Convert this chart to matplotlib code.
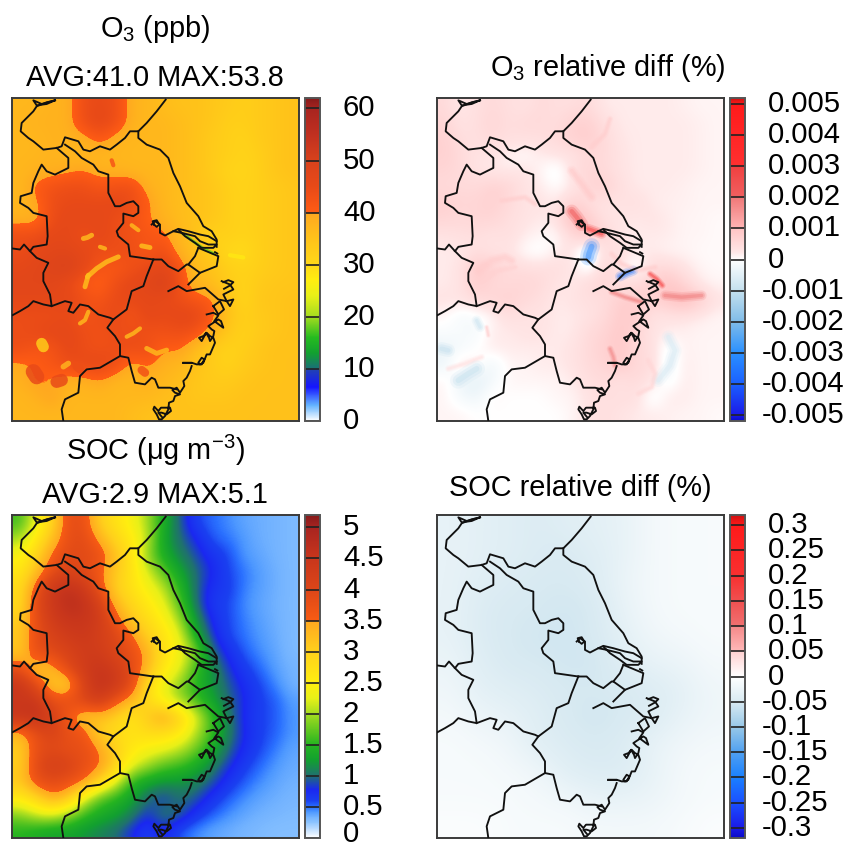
import numpy as np
import matplotlib
matplotlib.use("Agg")
import matplotlib.pyplot as plt
from matplotlib.colors import LinearSegmentedColormap, Normalize
from matplotlib.cm import ScalarMappable

plt.rcParams['font.family'] = ['Liberation Sans', 'DejaVu Sans']
plt.rcParams['mathtext.fontset'] = 'custom'
plt.rcParams['mathtext.rm'] = 'Liberation Sans'
plt.rcParams['mathtext.it'] = 'Liberation Sans'
plt.rcParams['mathtext.default'] = 'rm'

# ---------- gridded fields (row 0 = north) ----------
o3 = [
 [37,37,38,38,44,45,44,38,37,36,35,35,34,33,32,33,34,35],
 [37,38,38,38,44,46,44,38,37,37,36,35,34,32,32,33,34,35],
 [37,37,38,38,38,42,38,37,37,37,36,35,33,32,31,33,34,35],
 [37,37,38,37,37,37,37,37,37,37,36,35,33,32,31,32,34,35],
 [37,38,38,39,40,38,38,37,37,37,36,35,33,31,30.5,32,34,35],
 [37,41,43,44,44,42,43,44,38,37,36,35,34,32,31,32,33,34],
 [37,39,44,45,45,45,46,44,41,37,36,35,34,32,31,32,33,34],
 [38,38,44,46,46,46,44,43,40,38,36,35,34,32,31,32,33,34],
 [44,44,46,46,43,46,44,43,42,41,37,35,31,32,31,32,33,34],
 [44,46,47,47,46,44,44,44,41,44,38,35,33,30,29,32,33,34],
 [46,47,48,50,46,42,41,43,45,47,43,36,35,32,31,32,33,34],
 [47,47,47,45,41,39,44,46,47,50,43,37,36,33,31,33,34,34],
 [46,46,46,46,44,42,45,45,46,45,44,42,41,35,30,34,34,35],
 [44,44,44,45,42,44,45,42,46,45,46,46,42,35,32,33,34,35],
 [44,45,46,46,44,43,44,44,43,43,44,43,38,34,31,33,34,35],
 [44,42,42,46,44,43,44,44,44,40,41,36,33,31,32,34,35,35],
 [39,40,42,44,45,46,44,38,41,38,37,35,33,31,33,34,35,35],
 [38,41,39,38,38,40,37,37,38,37,36,34,33,33,34,35,35,35],
 [37,38,41,37,37,37,37,37,37,36,35,34,34,34,35,35,35,35],
 [37,37,37,37,37,37,37,36,35,35,35,35,35,35,35,35,35,35],
]
o3_diff = [
 [.5,.2,.4,.5,.4,.3,.5,.4,.4,.5,.2,.2,.2,.2,.2,.15,.1,.1],
 [.6,.3,.4,.6,.4,.5,.5,.4,.7,.7,.4,.2,.2,.2,.2,.2,.15,.1],
 [.7,.4,.4,.5,.4,.4,.4,.5,.7,.8,.5,.25,.2,.2,.2,.2,.15,.1],
 [.7,.5,.3,.3,.1,.0,.2,.3,.3,.5,.5,.3,.2,.2,.2,.2,.15,.1],
 [.6,.5,.3,.2,.2,.3,.1,-.2,.4,.6,.5,.3,.2,.2,.2,.2,.15,.1],
 [.5,.5,.5,.7,.6,.3,.2,.0,.2,.6,.7,.4,.2,.2,.2,.15,.1,.1],
 [.7,.6,.6,.7,.5,.3,.3,.2,.7,.4,.3,.3,.4,.2,.15,.15,.1,.1],
 [.6,.5,.6,.6,.4,.3,.2,.3,1.2,.8,.3,.3,.2,.3,.2,.1,.1,.05],
 [.3,.4,.4,.3,.4,.2,.1,.0,.5,1.0,.6,.2,.2,.2,.2,.1,.1,.05],
 [.2,.2,.4,.3,.3,.0,-.1,.2,.3,-.6,.4,.4,.2,.2,.1,.1,.05,.05],
 [.2,.3,.9,.7,.5,.4,.4,.4,.3,-.2,.6,.3,-.2,.5,.5,.3,.1,.05],
 [.2,.3,.8,.5,.5,.6,.5,.3,.2,.5,.6,.3,.5,.7,1.0,.6,.2,.1],
 [.3,.3,.5,.6,.7,.5,.4,.2,.3,.4,.4,.8,.8,.6,.9,1.2,.8,.3],
 [.1,-.2,-.1,.1,.4,.3,.3,.2,.2,.3,.5,.8,.8,.3,.3,.3,.2,.1],
 [-.1,-.1,-.2,.2,.2,.3,.3,.2,.2,.5,.6,.9,.6,.3,.2,.15,.1,.1],
 [-.3,-.2,.0,.2,.2,.2,.2,.2,.3,.5,.7,.9,.5,.4,-.2,.15,.1,.1],
 [-.3,.3,.1,-.3,.1,.1,.2,.2,.3,.5,.6,.9,.5,.5,-.3,.2,.1,.1],
 [.1,-.3,-.5,-.2,.1,.1,.1,.1,.2,.4,.5,.3,.5,.3,-.2,.2,.1,.1],
 [.1,-.2,-.3,.1,.0,.0,.0,.1,.1,.3,.4,.4,.4,-.2,.2,.2,.1,.1],
 [.1,.1,.0,.0,0,0,0,0,.1,.3,.4,.3,.2,.2,.15,.1,.1,.05],
]
soc = [
 [1.6,2.3,2.9,3.8,3.8,3.0,2.7,2.4,2.0,1.4,.95,.6,.52,.45,.38,.35,.33,.3],
 [2.0,2.6,3.2,3.8,3.9,3.4,2.9,2.6,2.1,1.3,1.0,.8,.55,.5,.42,.35,.33,.3],
 [2.4,2.9,3.6,3.9,3.9,3.8,3.2,2.7,1.9,1.4,1.1,.9,.7,.6,.42,.38,.33,.3],
 [2.6,3.2,3.8,4.1,3.9,3.6,3.1,2.7,2.2,1.7,1.3,1.0,.8,.6,.5,.4,.35,.3],
 [2.8,3.7,4.4,4.6,4.4,3.7,3.0,2.7,2.4,2.1,1.5,1.0,.7,.65,.48,.4,.35,.3],
 [2.8,3.9,4.4,4.7,4.6,4.2,3.3,2.9,2.6,2.3,1.7,1.0,.65,.6,.45,.38,.34,.3],
 [3.0,3.8,4.3,4.5,4.5,4.3,3.7,3.1,2.8,2.5,2.0,1.2,.75,.6,.48,.4,.35,.3],
 [3.1,3.8,4.1,4.3,4.4,4.2,4.0,3.6,3.0,2.7,2.3,1.4,.85,.6,.5,.42,.36,.3],
 [3.1,3.8,3.9,4.1,4.3,4.3,4.0,3.8,3.4,2.7,2.4,1.9,1.0,.75,.55,.45,.38,.3],
 [3.8,3.1,3.3,3.9,4.3,4.5,4.3,3.9,3.3,2.6,2.3,1.6,1.2,.85,.65,.52,.4,.33],
 [4.5,3.9,3.1,3.0,4.1,4.6,4.4,3.9,2.8,2.3,1.9,1.5,1.2,.95,.75,.6,.46,.33],
 [4.4,4.5,3.8,3.8,4.0,4.3,3.7,3.3,2.8,2.4,2.0,1.6,1.3,1.0,.8,.62,.55,.4],
 [4.5,4.6,4.2,3.6,3.1,3.2,3.0,2.6,3.1,3.5,3.0,2.3,1.6,1.1,.75,.62,.55,.42],
 [3.3,3.8,4.1,3.8,3.7,3.0,2.8,2.7,2.8,2.8,2.6,2.1,1.6,1.1,.8,.62,.54,.42],
 [3.0,3.8,3.9,3.8,3.8,3.5,3.0,2.6,2.4,2.3,2.1,1.8,1.4,1.0,.75,.6,.48,.38],
 [3.0,3.9,4.2,4.1,3.8,3.6,3.0,2.3,2.0,1.7,1.6,1.4,1.1,.85,.65,.52,.42,.36],
 [3.1,3.8,3.9,3.8,3.6,3.0,2.3,1.5,1.3,1.2,1.2,1.1,.95,.7,.55,.45,.38,.34],
 [2.6,2.9,3.5,3.2,2.3,1.7,1.5,1.3,1.0,.8,1.0,.95,.7,.55,.45,.38,.35,.32],
 [1.9,2.2,2.3,2.0,1.6,1.4,1.3,1.1,.8,1.1,1.0,.7,.55,.45,.38,.34,.32,.3],
 [1.5,1.4,1.3,1.3,1.2,1.1,1.0,.8,.6,.8,.55,.45,.38,.35,.32,.3,.28,.28],
]
soc_diff = [
 [-.03,-.035,-.04,-.045,-.04,-.035,-.03,-.015,-.01,-.01],
 [-.03,-.035,-.04,-.045,-.05,-.04,-.03,-.015,-.01,-.01],
 [-.03,-.04,-.045,-.05,-.05,-.045,-.025,-.015,-.01,-.01],
 [-.03,-.045,-.05,-.05,-.055,-.05,-.03,-.015,-.01,-.01],
 [-.03,-.045,-.05,-.055,-.055,-.05,-.035,-.02,-.015,-.01],
 [-.025,-.04,-.05,-.05,-.055,-.055,-.04,-.03,-.025,-.015],
 [-.02,-.035,-.04,-.045,-.05,-.05,-.05,-.045,-.035,-.02],
 [-.015,-.025,-.03,-.04,-.05,-.055,-.05,-.045,-.03,-.02],
 [-.01,-.015,-.02,-.04,-.045,-.05,-.045,-.03,-.02,-.015],
 [-.01,-.01,-.015,-.02,-.04,-.045,-.045,-.03,-.015,-.01],
 [-.01,-.01,-.01,-.015,-.02,-.03,-.03,-.025,-.015,-.01],
 [-.005,-.005,-.01,-.01,-.01,-.015,-.015,-.015,-.01,-.005],
]

# narrow features too fine for the grids: (map x, map y, value, width)
o3_features = [
 ([548,575,610,640],[572,592,617,632],18,2.2),
 ([262,290,320,355],[702,677,657,642],36,3.5),
 ([255,265],[732,697],36,3.5),
 ([125,130],[902,912],33,8),
 ([250,262,275],[587,584,577],37,3.5),
 ([300,315],[612,617],37,3),
 ([425,450],[609,614],36,3.5),
 ([690,730],[637,644],28,3),
 ([265,255,240],[807,832,842],37,3),
 ([440,470,500],[917,932,922],37,3.5),
 ([380,400,420],[882,872,857],37,3),
 ([190,205],[972,962],38,4),
 ([100,110],[987,1002],45,11),
 ([170,185],[1017,1012],45,9),
 ([230,240],[972,980],44,6),
 ([425,435],[982,990],43,6),
 ([395,415],[547,562],37,3),
 ([335,340],[352,367],42,3),
]
o3_diff_features = [
 ([440,455,470],[505,523,545],2.6,4),
 ([490,510,530],[558,565,573],3.0,3),
 ([500,492,490],[611,633,643],-3.2,5),
 ([585,605,625],[701,691,683],-3.6,3),
 ([675,695,712],[693,708,728],3.0,2),
 ([720,770,830],[758,763,758],2.0,3),
 ([560,600,650],[748,763,778],2.0,2),
 ([555,565,570],[918,943,968],1.8,2),
 ([730,750,735,700],[883,923,968,1013],-.7,4),
 ([640,680,690,670],[1053,1033,993,953],.6,2),
 ([160,200,240,260],[683,653,643,653],.8,3),
 ([170,220,270],[713,683,673],.7,2),
 ([500,540,555],[313,273,228],.8,2),
 ([560,590,640,690],[633,663,683,673],.8,2),
 ([70,120,170],[978,963,943],.4,2),
 ([100,130,155],[1013,993,978],-1.0,5),
 ([50,70],[918,923],-1.0,4),
 ([155,165],[833,853],-.9,3),
 ([185,190],[853,878],.9,1.5),
 ([230,300,330],[473,463,483],.8,2),
 ([440,470,500],[383,423,463],.9,3),
]

# ---------- boundaries, map units ----------
boundary_x = [
 [165,140,110,100,125,165],
 [497,470,440,415,390,375,350,330,300,270,250,235,195,185,170,130,100,85,62,65,100,110,140,165],
 [415,415,440,480,505,520,540,560,595,610,635,650,650],
 [455,465,480,480,495,520,535,565,600,625,650],
 [535,555,585,605,640,650,625,600,585,545,520],
 [170,205,205,165,140,125,115,100,95,62,60,85,100,140,143,140,100,90,72,60,38],
 [90,110,145,130,130,150,155,130,100,85,60,38],
 [155,195,215,205,220,240,265,295,330,340,380,395,430,440,460],
 [460,390,385,355,350,370,370,400,415,415,400,380,360,345,325,325,295,280,245,225,195],
 [460,485,505,535,560,565,600,575,565],
 [595,585,565],
 [600,650,655,595],
 [505,535,560,615,655,680,700,690,680,670,700,690,665],
 [620,640,655,643,663,670,663,655,640,625,635,643,640,630,627,618,613,605,597,610,620,630,640,645,630,620,610,600,595,605,613,605,590,575,560,550],
 [575,570,560,550,553,540,530,517,525,540,525,520,507,505,495,485,477,470,460,463,475,483,495,510,513,500,485,475,485],
 [550,575],
 [530,510,475,465,455,435,405,395,385,360,360,345,322,340],
 [360,300,260,240,235,195,185,190],
 [645,652],
 [670,685,700,690,672],
 [640,660,672,655,640],
 [462,458,470,478,470,462],
]
boundary_y = [
 [172,183,187,172,183,172],
 [170,205,240,265,265,285,305,320,310,325,320,295,283,310,315,320,295,285,265,240,205,190,178,172],
 [265,285,305,320,345,390,430,480,520,550,565,590,612],
 [545,535,545,570,578,565,558,565,575,580,595],
 [560,580,600,615,615,605,605,595,580,570,565],
 [315,345,375,395,385,365,385,420,450,460,480,495,510,520,580,605,612,625,605,620,617],
 [625,645,660,690,715,755,790,785,775,790,805,817],
 [790,775,780,805,810,785,790,815,825,830,800,745,730,700,650],
 [650,640,605,580,565,540,512,520,510,490,475,480,490,490,450,395,385,365,345,325,305],
 [650,650,670,685,665,665,690,715,725],
 [615,640,665],
 [690,670,640,615],
 [745,730,745,735,770,775,770,790,775,755,740,725,715],
 [815,810,818,835,850,855,835,830,840,850,860,865,880,895,885,870,880,895,885,880,870,880,885,900,935,935,960,965,960,945,950,965,965,960,960,960],
 [970,985,1005,1015,1030,1050,1035,1042,1050,1055,1060,1075,1080,1100,1120,1130,1130,1115,1100,1092,1105,1095,1095,1095,1105,1115,1110,1110,1122],
 [960,960],
 [1040,1035,1035,1010,1005,1025,1020,985,945,940,905,880,855,830],
 [940,975,980,1000,1050,1070,1100,1135],
 [628,632],
 [718,712,718,728,738],
 [790,775,800,815,790],
 [545,535,532,545,552,545],
]

# ---------- colours: (value, colour) ----------
o3_colors = [(0,'#ffffff'),(3,'#63b3ff'),(6.5,'#1515ff'),(10,'#2244b0'),(10.01,'#1a6f78'),(13,'#12a030'),
 (16,'#25bb20'),(20,'#a5dc20'),(24,'#e8f018'),(27,'#ffee10'),(30,'#ffd818'),(35,'#ffc21a'),(39.9,'#ffa820'),
 (40,'#ff5c14'),(45,'#e84a18'),(50,'#d8421c'),(55,'#c03020'),(60,'#a82420'),(62,'#861a1a')]
soc_colors = [(0,'#ffffff'),(.25,'#8cc4ff'),(.33,'#74b4ff'),(.42,'#4d98ff'),(.5,'#2a70ff'),(.6,'#1a40f0'),(.78,'#1a28f0'),(1,'#207070'),(1.25,'#12a030'),
 (1.5,'#25b420'),(2,'#a5dc20'),(2.25,'#e8f018'),(2.5,'#ffee10'),(3,'#ffd01c'),(3.49,'#ffa820'),(3.5,'#f85c14'),(4,'#dc4618'),
 (4.5,'#c8361c'),(5,'#a82420'),(5.2,'#861a1a')]
diff_colors = [(-5.2,'#0a0ac8'),(-5,'#1a1ae8'),(-4,'#1a60ff'),(-3,'#2a90ff'),(-2,'#80bce8'),(-1,'#c4e0ee'),(0,'#ffffff'),
 (.25,'#ffe6e6'),(1,'#ffc4c4'),(1.01,'#ffb4b4'),(2,'#f07878'),(2.01,'#f06060'),(3,'#f04040'),(3.01,'#ff3030'),(5,'#ff1a1a'),(5.2,'#d01010')]
soc_diff_colors = [(-.32,'#0a0ac8'),(-.3,'#1a1ae8'),(-.25,'#1a50ff'),(-.2,'#1a80ff'),(-.15,'#50a0f0'),(-.1,'#98c8e8'),(-.05,'#d8eaf2'),
 (0,'#ffffff'),(.05,'#ffd0d0'),(.051,'#ffb8b8'),(.1,'#f48888'),(.101,'#f07070'),(.15,'#f05050'),(.2,'#f83030'),(.3,'#ff1a1a'),(.32,'#d01010')]

o3_ticks = [0,10,20,30,40,50,60]
soc_ticks = [0,.5,1,1.5,2,2.5,3,3.5,4,4.5,5]
o3_diff_ticks = [-5,-4,-3,-2,-1,0,1,2,3,4,5]
soc_diff_ticks = [-.3,-.25,-.2,-.15,-.1,-.05,0,.05,.1,.15,.2,.25,.3]
o3_labels = ['0','10','20','30','40','50','60']
soc_labels = ['0','0.5','1','1.5','2','2.5','3','3.5','4','4.5','5']
o3_diff_labels = ['-0.005','-0.004','-0.003','-0.002','-0.001','0','0.001','0.002','0.003','0.004','0.005']
soc_diff_labels = ['-0.3','-0.25','-0.2','-0.15','-0.1','-0.05','0','0.05','0.1','0.15','0.2','0.25','0.3']

W, H = 845, 847
FS_TITLE = 20.8
FS_TICK = 21.2
fig = plt.figure(figsize=(W/100, H/100), dpi=100)
EDGE = '#3a3a3a'

def px_axes(x0, y0, x1, y1):
    return fig.add_axes([x0/W, 1-y1/H, (x1-x0)/W, (y1-y0)/H])

def make_cmap(stops, vmin, vmax):
    nodes = [((v-vmin)/(vmax-vmin), c) for v, c in stops]
    return LinearSegmentedColormap.from_list('c', nodes, N=1024)

def panel(field, stops, vmin, vmax, ticks, labels, x0, y0, features=(), passes=(), bottom_shift=0):
    ax = px_axes(x0, y0, x0+287, y0+323)
    cmap = make_cmap(stops, vmin, vmax)
    norm = Normalize(vmin, vmax)
    ax.imshow(np.array(field, float), cmap=cmap, norm=norm, extent=(36, 897, 1135, 165), aspect='auto',
              interpolation='bicubic', interpolation_stage='data')
    for fx, fy, val, wd in features:
        c = cmap(norm(val))
        for grow, alpha in passes:
            ax.plot(fx, fy, color=c, lw=wd*grow, alpha=alpha, solid_capstyle='round', zorder=2)
    for bx, by in zip(boundary_x, boundary_y):
        ax.plot(bx, by, color='#111111', lw=1.35, zorder=3, solid_joinstyle='round')
    ax.set_xlim(36, 897)
    ax.set_ylim(1135, 165)
    ax.set_xticks([]); ax.set_yticks([])
    for s in ax.spines.values():
        s.set_color(EDGE); s.set_linewidth(1.4)
    cax = px_axes(x0+293, y0, x0+308, y0+323)
    cb = fig.colorbar(ScalarMappable(norm=norm, cmap=cmap), cax=cax)
    cb.set_ticks([])
    cb.outline.set_edgecolor('#555555'); cb.outline.set_linewidth(1.4)
    cax.hlines(ticks, 0, 1, transform=cax.get_yaxis_transform(), color='#222222', lw=1.2)
    for t, lab in zip(ticks, labels):
        dx = 23 - (6 if lab.startswith('-') else 0)
        dy = bottom_shift if t == ticks[0] else 0
        cax.annotate(lab, xy=(1, t), xycoords=cax.get_yaxis_transform(), xytext=(dx, dy), textcoords='offset pixels',
                     va='center', ha='left', fontsize=FS_TICK, color='black', annotation_clip=False)
    return ax

panel(o3, o3_colors, 0, 62, o3_ticks, o3_labels, 12, 98, o3_features, passes=((1, .85),))
panel(o3_diff, diff_colors, -5.2, 5.2, o3_diff_ticks, o3_diff_labels, 437, 98, o3_diff_features,
      passes=((2.4, .18), (1.6, .28), (.8, .4)))
panel(soc, soc_colors, 0, 5.2, soc_ticks, soc_labels, 12, 515, bottom_shift=4)
panel(soc_diff, soc_diff_colors, -.32, .32, soc_diff_ticks, soc_diff_labels, 437, 515)

def title(s, x, y):
    fig.text(x/W, 1-y/H, s, ha='center', va='center', fontsize=FS_TITLE, color='black')

title('O$_3$ (ppb)', 155, 29)
title('AVG:41.0 MAX:53.8', 155, 78)
title('O$_3$ relative diff (%)', 608, 68)
title('SOC (\u03bcg m$^{-3}$)', 155, 450)
title('AVG:2.9 MAX:5.1', 155, 495)
title('SOC relative diff (%)', 580, 488)

fig.savefig('out.png', dpi=100)
